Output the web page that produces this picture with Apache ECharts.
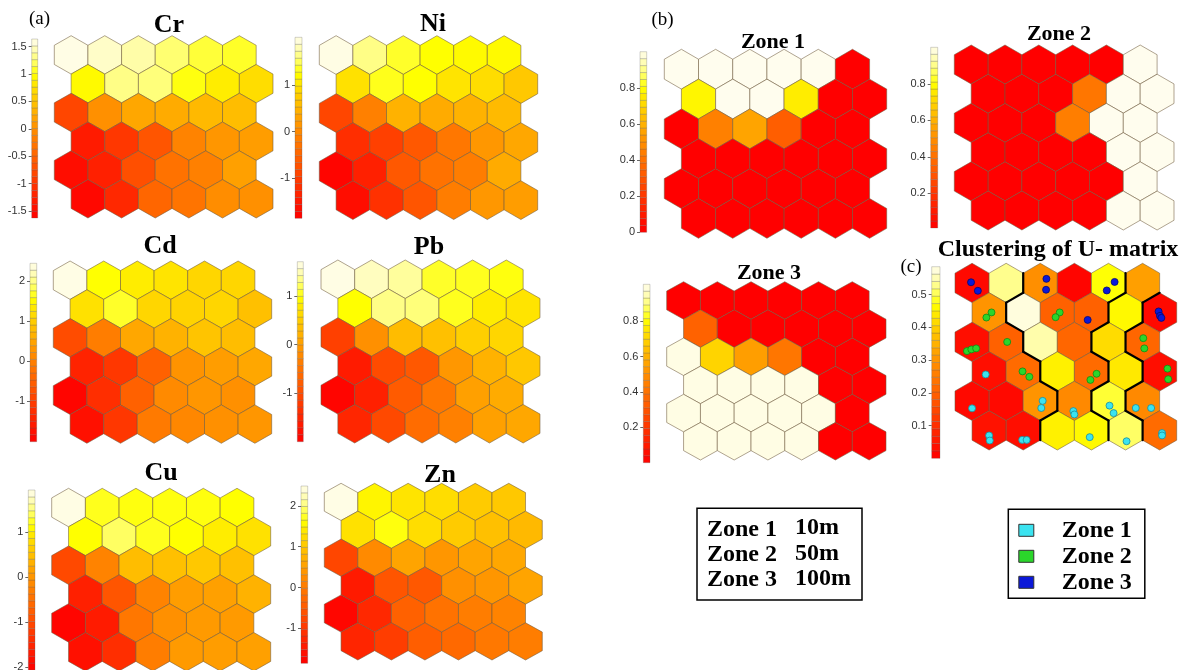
<!DOCTYPE html>
<html><head><meta charset="utf-8">
<script src="https://cdn.jsdelivr.net/npm/echarts@6/dist/echarts.min.js"></script>
<style>html,body{margin:0;padding:0;background:#fff}#c{width:1189px;height:670px}</style>
</head><body><div id="c"></div>
<script>
// ---------------- DATA (rows top -> bottom, 6 cells each; odd rows shifted right) ----------------
const crValues = [
 [1.61,1.51,1.41,1.25,1.12,1.08],
 [0.95,1.31,1.28,1.02,0.86,0.72],
 [-0.81,0.00,0.23,0.27,0.40,0.43],
 [-1.30,-0.98,-0.65,-0.13,0.07,0.14],
 [-1.47,-1.24,-0.71,-0.32,-0.16,0.17],
 [-1.53,-1.14,-0.45,-0.29,-0.03,0.00]];
const niValues = [
 [1.98,1.63,1.36,1.24,1.20,1.20],
 [0.97,1.32,1.24,1.01,0.93,0.70],
 [-0.89,-0.11,0.47,0.39,0.47,0.55],
 [-1.20,-0.97,-0.66,-0.23,0.16,0.35],
 [-1.78,-1.39,-0.66,-0.31,-0.15,0.39],
 [-1.67,-1.16,-0.70,-0.15,0.16,0.24]];
const cdValues = [
 [2.40,1.55,1.37,1.28,1.10,1.10],
 [1.24,1.68,1.10,1.06,1.10,0.83],
 [-0.82,-0.06,0.52,0.66,0.88,0.79],
 [-1.44,-1.13,-0.50,0.25,0.39,0.52],
 [-1.93,-1.26,-0.50,0.12,0.30,0.21],
 [-1.75,-1.13,-0.10,0.08,0.21,0.30]];
const pbValues = [
 [1.66,1.52,1.40,1.07,1.04,1.00],
 [0.96,1.33,1.29,1.04,0.81,0.74],
 [-1.14,-0.14,0.33,0.37,0.52,0.59],
 [-1.62,-1.00,-0.85,-0.07,0.22,0.44],
 [-1.92,-1.55,-0.81,-0.44,0.04,0.15],
 [-1.47,-1.03,-0.59,-0.33,0.04,0.11]];
const cuValues = [
 [1.89,1.21,1.17,1.17,1.17,1.13],
 [1.13,1.41,1.21,1.13,0.97,0.85],
 [-1.03,-0.23,0.45,0.49,0.57,0.49],
 [-1.59,-0.87,-0.23,0.09,0.13,0.33],
 [-1.99,-1.67,-0.39,-0.07,0.05,0.05],
 [-1.83,-1.39,-0.31,0.05,0.09,0.13]];
const znValues = [
 [2.45,1.53,1.36,1.27,1.05,1.01],
 [1.32,1.66,1.27,1.05,0.92,0.84],
 [-0.77,0.23,0.58,0.40,0.58,0.62],
 [-1.43,-0.56,-0.51,0.32,0.40,0.58],
 [-1.77,-1.21,-0.38,-0.12,0.05,0.14],
 [-1.25,-0.90,-0.42,-0.25,-0.03,0.05]];
const zone1Values = [
 [1,1,1,1,1,0],
 [0.78,1,1,0.76,0,0],
 [0,0.45,0.56,0.33,0,0],
 [0,0,0,0,0,0],
 [0,0,0,0,0,0],
 [0,0,0,0,0,0]];
const zone2Values = [
 [0,0,0,0,0,1],
 [0,0,0,0.42,1,1],
 [0,0,0,0.45,1,1],
 [0,0,0,0,1,1],
 [0,0,0,0,0,1],
 [0,0,0,0,1,1]];
const zone3Values = [
 [0,0,0,0,0,0],
 [0.35,0,0,0,0,0],
 [1,0.70,0.55,0.42,0,0],
 [1,1,1,1,0,0],
 [1,1,1,1,1,0],
 [1,1,1,1,0,0]];
const uValues = [
 [0.02,0.53,0.29,0.01,0.47,0.32],
 [0.30,0.575,0.20,0.20,0.46,0.02],
 [0.03,0.20,0.545,0.21,0.42,0.21],
 [0.03,0.22,0.45,0.22,0.44,0.03],
 [0.02,0.02,0.30,0.28,0.49,0.28],
 [0.04,0.03,0.45,0.46,0.51,0.22]];
// cluster label of each U-matrix cell (thick black lines separate different labels)
const uClusters = [
 ['A','A','B','B','B','C'],
 ['A','B','B','B','C','D'],
 ['A','A','B','B','C','D'],
 ['A','A','B','B','C','D'],
 ['A','A','A','B','C','D'],
 ['A','A','B','B','C','D']];
// sample hits on the U-matrix: [row, col, zone, dx, dy] (dx, dy = offset inside the cell)
const uHits = [
 [0,0,3,-0.03,-0.02],[0,0,3,0.17,0.23],
 [0,2,3,0.18,-0.12],[0,2,3,0.17,0.2],
 [0,4,3,0.18,-0.03],[0,4,3,-0.05,0.22],
 [1,0,2,0.07,0],[1,0,2,-0.08,0.15],
 [1,2,2,0.07,0],[1,2,2,-0.05,0.14],
 [1,3,3,-0.11,0.22],
 [1,5,3,-0.03,-0.03],[1,5,3,0.01,0.1],[1,5,3,0.05,0.16],
 [2,0,2,-0.15,0.27],[2,0,2,-0.02,0.22],[2,0,2,0.12,0.19],
 [2,1,2,0.03,0],
 [2,5,2,0.02,-0.11],[2,5,2,0.05,0.19],
 [3,0,1,-0.1,0.09],
 [3,1,2,-0.02,0],[3,1,2,0.18,0.16],
 [3,3,2,0.15,0.07],[3,3,2,-0.03,0.25],
 [3,5,2,0.23,-0.08],[3,5,2,0.25,0.23],
 [4,0,1,0,0.22],
 [4,2,1,0.07,0],[4,2,1,0.03,0.21],
 [4,3,1,-0.03,0.3],[4,3,1,0,0.4],
 [4,4,1,0.03,0.14],[4,4,1,0.15,0.36],
 [4,5,1,-0.2,0.21],[4,5,1,0.25,0.21],
 [5,0,1,0,0.15],[5,0,1,0.02,0.3],
 [5,1,1,-0.03,0.28],[5,1,1,0.1,0.28],
 [5,3,1,-0.05,0.2],
 [5,4,1,0.03,0.32],
 [5,5,1,0.07,0.08],[5,5,1,0.07,0.15]];
// colour-bar ranges and tick labels
const crRange=[-1.63,1.64], niRange=[-1.86,2.02], cdRange=[-2.02,2.44], pbRange=[-1.99,1.70],
      cuRange=[-2.07,1.93], znRange=[-1.86,2.49], zone1Range=[0,1.0], zone2Range=[0.01,1.0],
      zone3Range=[0,1.01], uRange=[0,0.585];
const crTicks=[-1.5,-1,-0.5,0,0.5,1,1.5], niTicks=[-1,0,1], cdTicks=[-1,0,1,2], pbTicks=[-1,0,1],
      cuTicks=[-2,-1,0,1], znTicks=[-1,0,1,2], zone1Ticks=[0,0.2,0.4,0.6,0.8],
      zone2Ticks=[0.2,0.4,0.6,0.8], zone3Ticks=[0.2,0.4,0.6,0.8], uTicks=[0.1,0.2,0.3,0.4,0.5];
const mapTitles=['Cr','Ni','Cd','Pb','Cu','Zn','Zone 1','Zone 2','Zone 3','Clustering of U- matrix'];
const zoneNames=['Zone 1','Zone 2','Zone 3'];
const depthLabels=['10m','50m','100m'];

// ---------------- LAYOUT / STYLE ----------------
const SERIF='"Liberation Serif","Times New Roman",serif';
const maps = [
 {values:crValues, range:crRange, ticks:crTicks, box:[54.3,35.7,273,218], bar:[31.7,39,37.7,218], t:[169,25,26]},
 {values:niValues, range:niRange, ticks:niTicks, box:[319.3,35.7,537.7,219.5], bar:[295,37.3,302,218.3], t:[433,24.5,26]},
 {values:cdValues, range:cdRange, ticks:cdTicks, box:[53.3,261,271.7,443.3], bar:[30,263.3,36.7,441.7], t:[160,246,26]},
 {values:pbValues, range:pbRange, ticks:pbTicks, box:[321,260,540,443], bar:[297.3,261.7,303.3,441.7], t:[429,247,26]},
 {values:cuValues, range:cuRange, ticks:cuTicks, box:[51.7,488.3,270.7,671], bar:[28.3,490,35,670], t:[161,473.5,26]},
 {values:znValues, range:znRange, ticks:znTicks, box:[324.3,483.3,542.3,660], bar:[301,486,307.7,663.3], t:[440,475,26]},
 {values:zone1Values, range:zone1Range, ticks:zone1Ticks, box:[664.3,49.3,886.7,238.3], bar:[640,51.7,646.7,232.3], t:[773,42.5,22]},
 {values:zone2Values, range:zone2Range, ticks:zone2Ticks, box:[954.3,45,1174,230], bar:[930.7,47.3,937.7,228], t:[1059,34,22]},
 {values:zone3Values, range:zone3Range, ticks:zone3Ticks, box:[666.7,281.7,886,460], bar:[643.3,284.3,650,462.7], t:[769,273.5,22]},
 {values:uValues, range:uRange, ticks:uTicks, box:[955,263.3,1176.7,450], bar:[931.7,266.7,940,458.3], t:[1058,250,24]}
];
const S = Math.sqrt(3)/2, R = 1/Math.sqrt(3);
const stops = [[0,[255,0,0]],[0.15,[255,40,0]],[0.3,[255,85,0]],[0.45,[255,128,0]],[0.55,[255,160,0]],
 [0.65,[255,196,0]],[0.75,[255,232,0]],[0.8,[255,255,0]],[0.88,[255,255,112]],[0.94,[255,253,180]],[1,[255,253,238]]];
function cmap(t){
  t=Math.max(0,Math.min(1,t));
  for(let i=1;i<stops.length;i++){
    if(t<=stops[i][0]){const a=stops[i-1],b=stops[i],f=(t-a[0])/(b[0]-a[0]);
      const c=a[1].map((v,k)=>Math.round(v+(b[1][k]-v)*f));return 'rgb('+c.join(',')+')';}
  }
  return 'rgb(255,253,238)';
}
const chart = echarts.init(document.getElementById('c'), null, {renderer:'canvas', width:1189, height:670});
const grids=[], xAxes=[], yAxes=[], series=[];
function addGrid(b){grids.push({left:b[0],top:b[1],width:b[2]-b[0],height:b[3]-b[1],containLabel:false,outerBoundsMode:'none'});return grids.length-1;}
function hexRenderer(range){
  return function(params, api){
    const c=api.value(0), r=api.value(1), v=api.value(2);
    const cx=c+(r%2)*0.5, cy=r*S;
    const pts=[[cx,cy-R],[cx+0.5,cy-R/2],[cx+0.5,cy+R/2],[cx,cy+R],[cx-0.5,cy+R/2],[cx-0.5,cy-R/2]].map(p=>api.coord(p));
    return {type:'polygon',shape:{points:pts},style:{fill:cmap((v-range[0])/(range[1]-range[0])),stroke:'rgba(110,90,60,0.55)',lineWidth:1,lineJoin:'round'}};
  };
}
function barRenderer(range){
  return function(params, api){
    const lo=api.value(0), hi=api.value(1);
    const p1=api.coord([0,hi]), p2=api.coord([1,lo]);
    return {type:'rect',shape:{x:p1[0],y:p1[1],width:p2[0]-p1[0],height:p2[1]-p1[1]},
      style:{fill:cmap(((lo+hi)/2-range[0])/(range[1]-range[0])),stroke:'rgba(90,90,90,0.45)',lineWidth:0.6}};
  };
}
const N=26;
let uAxis=0;
maps.forEach((m,idx)=>{
  const gi=addGrid(m.box);
  xAxes.push({gridIndex:gi,type:'value',min:-0.5,max:6,show:false});
  yAxes.push({gridIndex:gi,type:'value',min:-R,max:5*S+R,inverse:true,show:false});
  const ai=xAxes.length-1; if(idx===9) uAxis=ai;
  const data=[]; m.values.forEach((row,r)=>row.forEach((v,c)=>data.push([c,r,v])));
  series.push({type:'custom',xAxisIndex:ai,yAxisIndex:ai,data,renderItem:hexRenderer(m.range),silent:true,animation:false,z:2});
  const gb=addGrid(m.bar);
  xAxes.push({gridIndex:gb,type:'value',min:0,max:1,show:false});
  yAxes.push({gridIndex:gb,type:'value',min:m.range[0],max:m.range[1],position:'left',
    axisLine:{show:false},splitLine:{show:false},
    axisTick:{show:true,length:3,lineStyle:{color:'#666'},customValues:m.ticks},
    axisLabel:{customValues:m.ticks,margin:5,color:'#333',fontSize:11,fontFamily:'"Liberation Sans",Arial,sans-serif'}});
  const bi=xAxes.length-1;
  const segs=[]; for(let i=0;i<N;i++){segs.push([m.range[0]+(m.range[1]-m.range[0])*i/N, m.range[0]+(m.range[1]-m.range[0])*(i+1)/N]);}
  series.push({type:'custom',xAxisIndex:bi,yAxisIndex:bi,data:segs,renderItem:barRenderer(m.range),silent:true,animation:false});
});
// cluster boundaries
const cellData=[]; uClusters.forEach((row,r)=>row.forEach((k,c)=>cellData.push([c,r])));
series.push({type:'custom',xAxisIndex:uAxis,yAxisIndex:uAxis,data:cellData,silent:true,animation:false,z:3,
  renderItem:function(params,api){
    const c=api.value(0), r=api.value(1), k=uClusters[r][c];
    const cx=c+(r%2)*0.5, cy=r*S, ch=[];
    const seg=(a,b)=>{const p=api.coord(a),q=api.coord(b);ch.push({type:'line',shape:{x1:p[0],y1:p[1],x2:q[0],y2:q[1]},style:{stroke:'#000',lineWidth:2.2,lineCap:'round'}});};
    if(c+1<6&&uClusters[r][c+1]!==k) seg([cx+0.5,cy-R/2],[cx+0.5,cy+R/2]);
    if(r+1<6){const se=r%2?c+1:c, sw=r%2?c:c-1;
      if(se<6&&uClusters[r+1][se]!==k) seg([cx,cy+R],[cx+0.5,cy+R/2]);
      if(sw>=0&&uClusters[r+1][sw]!==k) seg([cx,cy+R],[cx-0.5,cy+R/2]);}
    return {type:'group',children:ch};
  }});
const hitColors=[['#3be3f0','#1b8c99'],['#2bd62b','#138a13'],['#0b18d8','#050a70']];
zoneNames.forEach((nm,zi)=>{
  series.push({type:'scatter',name:nm,xAxisIndex:uAxis,yAxisIndex:uAxis,symbol:'circle',symbolSize:7,z:4,animation:false,
    itemStyle:{color:hitColors[zi][0],borderColor:hitColors[zi][1],borderWidth:0.8,opacity:1},
    data:uHits.filter(h=>h[2]===zi+1).map(h=>[h[1]+(h[0]%2)*0.5+h[3], h[0]*S+h[4]])});
});
const graphic=[];
maps.forEach((m,i)=>graphic.push({type:'text',x:m.t[0],y:m.t[1],style:{text:mapTitles[i],font:'bold '+m.t[2]+'px '+SERIF,fill:'#000',textAlign:'center',textVerticalAlign:'middle'}}));
[['(a)',39.5,19],['(b)',662.5,20],['(c)',911,267]].forEach(p=>graphic.push({type:'text',x:p[1],y:p[2],style:{text:p[0],font:'19px '+SERIF,fill:'#000',textAlign:'center',textVerticalAlign:'middle'}}));
graphic.push({type:'rect',shape:{x:697,y:508.3,width:165,height:91.7},style:{fill:'none',stroke:'#000',lineWidth:1.5}});
const rowY=[530,555,580];
zoneNames.forEach((nm,i)=>{
  graphic.push({type:'text',x:707,y:rowY[i],style:{text:nm,font:'bold 24px '+SERIF,fill:'#000',textAlign:'left',textVerticalAlign:'middle'}});
  graphic.push({type:'text',x:795,y:rowY[i]-2+ (i?1:0),style:{text:depthLabels[i],font:'bold 24px '+SERIF,fill:'#000',textAlign:'left',textVerticalAlign:'middle'}});
});
chart.setOption({
  animation:false,
  grid:grids, xAxis:xAxes, yAxis:yAxes, series,
  legend:{data:zoneNames,orient:'vertical',left:1008.3,top:509.3,icon:'rect',itemWidth:15,itemHeight:12,itemGap:2,
    padding:[9,13,4,10],borderColor:'#000',borderWidth:1.5,selectedMode:false,
    itemStyle:{borderColor:'#333',borderWidth:1},
    textStyle:{fontFamily:SERIF,fontWeight:'bold',fontSize:24,lineHeight:24,color:'#000',padding:[0,0,0,23]}},
  graphic
});
</script></body></html>
